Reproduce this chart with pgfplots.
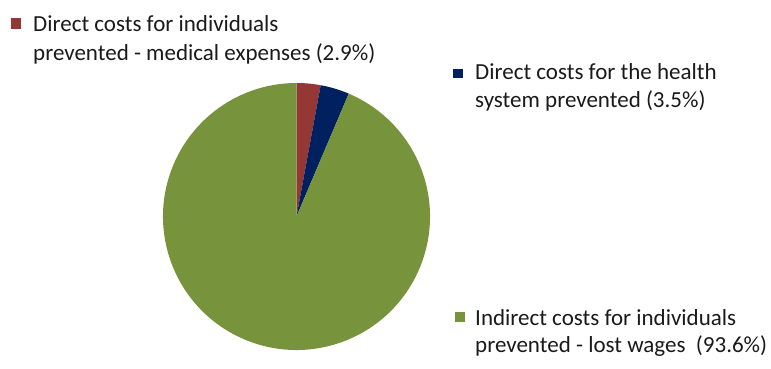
\documentclass[border=0pt]{standalone}
\usepackage{pgfplots}
\pgfplotsset{compat=1.18}
\usepackage{fontspec}
\setmainfont{Carlito}
\definecolor{cred}{HTML}{953735}
\definecolor{cblue}{HTML}{002060}
\definecolor{cgreen}{HTML}{77933C}
\definecolor{ctext}{HTML}{1A1A1A}
% shares in percent
\def\va{2.9}
\def\vb{3.5}
\def\vc{93.6}
\pgfmathsetmacro{\aA}{90}
\pgfmathsetmacro{\aB}{90-3.6*\va}
\pgfmathsetmacro{\aC}{\aB-3.6*\vb}
\pgfmathsetmacro{\aD}{\aC-3.6*\vc}
\begin{document}
\begin{tikzpicture}
\begin{axis}[
  width=771bp, height=358bp, scale only axis,
  xmin=0, xmax=771, ymin=0, ymax=358,
  hide axis, clip=false,
]
\path (axis cs:0,0) rectangle (axis cs:771,358);
\def\cx{296.5}\def\cy{141.5}\def\r{133.5bp}
\fill[cred] (axis cs:\cx,\cy) -- ++(\aA:\r) arc[start angle=\aA, end angle=\aB, radius=\r] -- cycle;
\fill[cblue] (axis cs:\cx,\cy) -- ++(\aB:\r) arc[start angle=\aB, end angle=\aC, radius=\r] -- cycle;
\fill[cgreen] (axis cs:\cx,\cy) -- ++(\aC:\r) arc[start angle=\aC, end angle=\aD, radius=\r] -- cycle;
\tikzset{lbl/.style={anchor=base west, inner sep=0pt, text=ctext, font=\fontsize{23bp}{28bp}\selectfont}}
% legend 1
\fill[cred] (axis cs:11,329) rectangle (axis cs:21,340);
\node[lbl] at (axis cs:33,326) {Direct costs for individuals};
\node[lbl] at (axis cs:33,297) {prevented - medical expenses (2.9\%)};
% legend 2
\fill[cblue] (axis cs:453,280) rectangle (axis cs:463,289);
\node[lbl] at (axis cs:475,278) {Direct costs for the health};
\node[lbl] at (axis cs:475,250) {system prevented (3.5\%)};
% legend 3
\fill[cgreen] (axis cs:455,36) rectangle (axis cs:465,46);
\node[lbl] at (axis cs:475,32) {Indirect costs for individuals};
\node[lbl] at (axis cs:475,5) {prevented - lost wages\ \ (93.6\%)};
\end{axis}
\end{tikzpicture}
\end{document}
